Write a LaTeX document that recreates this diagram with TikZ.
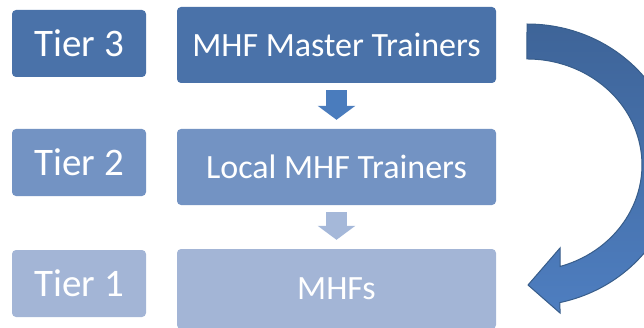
\documentclass[tikz,border=0pt]{standalone}
\usepackage{fontspec}
\setmainfont{Carlito}
\usepackage{xcolor}
\usepackage{tikz}
\usetikzlibrary{arrows.meta, calc}

\definecolor{tierthree}{RGB}{74,114,169}
\definecolor{tiertwo}{RGB}{115,147,195}
\definecolor{tierone}{RGB}{163,181,214}
\definecolor{downone}{RGB}{74,124,189}
\definecolor{downtwo}{RGB}{165,184,217}
\definecolor{bigtop}{RGB}{62,100,152}
\definecolor{bigbottom}{RGB}{78,126,192}
\definecolor{bigline}{RGB}{56,93,138}

\begin{document}
\begin{tikzpicture}[x=1pt, y=1pt,
        tierbox/.style={rounded corners=4pt, minimum width=134pt, minimum height=67pt,
            inner sep=0pt, text=white, font=\fontsize{39}{40}\selectfont},
        mainbox/.style={rounded corners=4pt, minimum width=319pt, minimum height=76pt,
            inner sep=0pt, text=white, font=\fontsize{34}{36}\selectfont},
        downarrow/.style={line width=21pt, -{Triangle[width=37pt, length=14pt]},
            shorten <=7pt, shorten >=9pt}]
        \clip (0, 0) rectangle (644, 327);

        \node[tierbox, fill=tierthree] (tier3) at (79, 283.5) {Tier 3};
        \node[tierbox, fill=tiertwo] (tier2) at (79, 164.5) {Tier 2};
        \node[tierbox, fill=tierone] (tier1) at (79, 43.5) {Tier 1};

        %%%

        \node[mainbox, fill=tierthree] (master) at (336.5, 282) {MHF Master Trainers};
        \node[mainbox, fill=tiertwo] (local) at (336.5, 160) {Local MHF Trainers};
        \node[mainbox, fill=tierone, minimum height=80pt] (mhfs) at (336.5, 38) {MHFs};

        \draw[downarrow, downone] (master.south) -- (local.north);
        \draw[downarrow, downtwo] (local.south) -- (mhfs.north);

        %%%

        \path[top color=bigtop, bottom color=bigbottom, draw=bigline, line width=1pt]
            (527, 303) arc[start angle=90, end angle=-77.3, x radius=150, y radius=141]
            -- (560, 14) -- (528, 42) -- (560, 79) -- (560, 60.5)
            arc[start angle=-73.3, end angle=90, x radius=115, y radius=106] -- cycle;
    \end{tikzpicture}
\end{document}
